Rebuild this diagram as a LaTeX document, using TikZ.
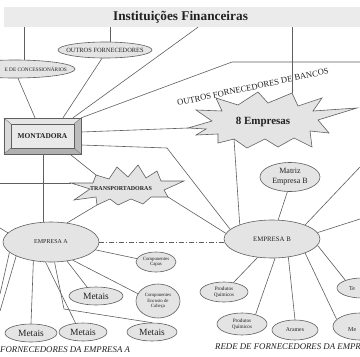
\documentclass[tikz,border=0pt]{standalone}
\usepackage{fontspec}
\setmainfont{Liberation Serif}
\usetikzlibrary{shapes.geometric}
\definecolor{linec}{HTML}{5F5F5F}
\definecolor{ellf}{HTML}{E4E4E4}
\definecolor{barf}{HTML}{EBEBEB}
\definecolor{txt}{HTML}{222222}
\newcommand{\myfs}[2]{\fontsize{#1}{#2}\selectfont}
\tikzset{
  ln/.style={draw=linec, line width=0.6pt},
  ell/.style={ellipse, draw=linec, fill=ellf, line width=0.6pt, inner sep=0pt, align=center, text=txt},
  burst/.style={draw=linec, fill=ellf, line width=0.6pt, line join=miter},
  lbl/.style={inner sep=0pt, text=txt, align=center},
  dashdot/.style={ln, dash pattern=on 5pt off 2pt on 1pt off 2pt},
}
\begin{document}
\begin{tikzpicture}[x=1pt,y=-1pt]
\useasboundingbox (0,0) rectangle (360,357);
\clip (0,0) rectangle (360,357);
\fill[white] (0,0) rectangle (360,357);

% title bar
\node[fill=barf, minimum width=356pt, minimum height=20pt, inner sep=0pt] (bar) at (182,17) {};
\node[lbl, font=\bfseries\myfs{13.3}{15}] (title) at (180.5,17.5) {Instituições Financeiras};

% top ellipses
\node[ell, minimum width=120pt, minimum height=18pt] (conc) at (15,69) {};
\node[lbl, anchor=east, font=\myfs{5.3}{6}] (conct) at (67,69.5) {E DE CONCESSIONÁRIOS};
\node[ell, minimum width=94pt, minimum height=16pt] (outros) at (105,50) {};
\node[lbl, font=\myfs{6.4}{7}] (outrost) at (105,50.5) {OUTROS FORNECEDORES};

% Montadora bevelled box
\fill[gray!45] (4,118) rectangle (81,154);
\fill[gray!20] (4,118) -- (81,118) -- (74,124) -- (11,124) -- cycle;
\fill[gray!30] (4,118) -- (11,124) -- (11,148) -- (4,154) -- cycle;
\fill[gray!62] (4,154) -- (81,154) -- (74,148) -- (11,148) -- cycle;
\fill[gray!52] (81,118) -- (81,154) -- (74,148) -- (74,124) -- cycle;
\draw[linec, line width=0.3pt] (4,118) -- (11,124) (81,118) -- (74,124) (4,154) -- (11,148) (81,154) -- (74,148);
\draw[linec, line width=0.4pt, fill=gray!17] (11,124) rectangle (74,148);
\draw[linec, line width=0.6pt] (4,118) rectangle (81,154);
\node[lbl, font=\bfseries\myfs{7.4}{8}, minimum width=77pt, minimum height=36pt] (mont) at (42.5,136) {MONTADORA};

% 8 Empresas starburst
\draw[burst] (188,128) -- (212,121) -- (196,110) -- (222,111) -- (216,98) -- (238,105) -- (258,92) -- (268,103) -- (292,93) -- (298,106) -- (322,98) -- (313,111) -- (357,108) -- (318,120) -- (329,133) -- (310,131) -- (312,147) -- (294,138) -- (278,147) -- (265,139) -- (247,148) -- (234,139) -- (218,143) -- (218,134) -- (196,135) -- (206,129) -- cycle;
\node[lbl, font=\bfseries\myfs{11}{12}] (e8) at (263,122) {8 Empresas};
\coordinate (e8L) at (188,128);
\coordinate (e8T) at (292,93);
\coordinate (e8B) at (234,139);

% Transportadoras starburst
\draw[burst] (71,183) -- (90,189) -- (74,200) -- (96,197) -- (97,205) -- (110,199) -- (118,205) -- (131,199) -- (143,204) -- (151,197) -- (168,197) -- (164,190) -- (184,181) -- (161,181) -- (157,171) -- (146,178) -- (138,165) -- (128,177) -- (117,167) -- (109,179) -- (96,175) -- (93,183) -- cycle;
\node[lbl, font=\bfseries\myfs{6}{7}] (trans) at (121,189) {TRANSPORTADORAS};
\coordinate (trL) at (71,183);
\coordinate (trBL) at (97,205);
\coordinate (trR) at (168,197);
\coordinate (trUL) at (96,175);

% rotated label
\node[lbl, font=\myfs{8.6}{9}, rotate=12] (bancos) at (253,87) {OUTROS FORNECEDORES DE BANCOS};

% Empresa A side
\node[ell, minimum width=96pt, minimum height=40pt, font=\myfs{6}{7}] (empA) at (51,242) {EMPRESA A};
\node[ell, minimum width=40pt, minimum height=20pt, font=\myfs{4.8}{5.6}] (capas) at (156,262) {Componentes\\Capas};
\node[ell, minimum width=44pt, minimum height=34pt, font=\myfs{4.8}{5.8}] (enc) at (158,301) {Componentes\\Encosto de\\Cabeça};
\node[ell, minimum width=54pt, minimum height=18pt, font=\myfs{9.5}{10}] (metM) at (96,296) {Metais};
\node[ell, minimum width=52pt, minimum height=18pt, font=\myfs{9.5}{10}] (metBL) at (31,333) {Metais};
\node[ell, minimum width=48pt, minimum height=18pt, font=\myfs{9.5}{10}] (metBM) at (83,332) {Metais};
\node[ell, minimum width=50pt, minimum height=18pt, font=\myfs{9.5}{10}] (metBR) at (152,332) {Metais};

% Empresa B side
\node[ell, minimum width=96pt, minimum height=38pt, font=\myfs{6.8}{8}] (empB) at (272,239) {EMPRESA B};
\node[ell, minimum width=60pt, minimum height=29pt, font=\myfs{8}{10}] (matriz) at (290,177) {Matriz\\Empresa B};
\node[ell, minimum width=48pt, minimum height=20pt, font=\myfs{5.2}{6.2}] (pq1) at (224,292) {Produtos\\Químicos};
\node[ell, minimum width=50pt, minimum height=22pt, font=\myfs{5.2}{6.2}] (pq2) at (242,324) {Produtos\\Químicos};
\node[ell, minimum width=46pt, minimum height=20pt, font=\myfs{5.8}{7}] (arames) at (295,330) {Arames};
\node[ell, minimum width=50pt, minimum height=20pt] (te) at (362,288) {};
\node[lbl, anchor=west, font=\myfs{6}{7}] (tet) at (349,288.5) {Te};
\node[ell, minimum width=54pt, minimum height=27pt] (me) at (360,326.5) {};
\node[lbl, anchor=west, font=\myfs{6}{7}] (met) at (348,330) {Me};

% bottom captions
\node[lbl, anchor=west, font=\itshape\myfs{8.8}{10}] (labA) at (0,350) {FORNECEDORES DA EMPRESA A};
\node[lbl, anchor=west, font=\itshape\myfs{8.8}{10}] (labB) at (215,347) {REDE DE FORNECEDORES DA EMPR};

% free ends
\coordinate (k1) at (232,62);
\coordinate (k2) at (360,62);
\coordinate (k3) at (167,148);
\coordinate (offL1) at (0,228);
\coordinate (offL2) at (0,183);
\coordinate (offA1) at (0,294);
\coordinate (offA2) at (0,311);
\coordinate (bend) at (64,309);
\coordinate (offR1) at (360,167);
\coordinate (offR2) at (360,219);

% connectors
\draw[ln] (bar.south -| 24,0) -- (conc.north -| 24,0);
\draw[ln] (bar.south -| 110,0) -- (outros.north -| 110,0);
\draw[ln] (conc.south -| 18,0) -- (mont.north -| 35,0);
\draw[ln] (outros.south -| 102,0) -- (mont.north -| 63,0);
\draw[ln] (mont.north -| 73,0) -- (bar.south -| 198,0);
\draw[ln] (mont.north east) -- (k1) -- (k2);
\draw[ln] (mont.east |- 0,132) -- (e8L);
\draw[ln] (mont.east |- 0,145) -- (k3) -- (empB.167);
\draw[ln] (mont.south -| 43,0) -- (empA.north -| 43,0);
\draw[ln] (mont.south -| 70,0) -- (trUL);
\draw[ln] (offL2) -- (trL);
\draw[ln] (trBL) -- (empA.50);
\draw[ln] (trR) -- (empB.173);
\draw[ln] (bar.south -| 292,0) -- (e8T);
\draw[ln] (e8B) -- (empB.156);
\draw[dashdot] (empA.east) -- (empA.east -| empB.west);
\draw[ln] (offL1) -- (empA.168);
\draw[ln] (empA.-166) -- (offA1);
\draw[ln] (empA.-158) -- (offA2);
\draw[ln] (empA.-133) -- (metBL.north);
\draw[ln] (empA.-105) -- (metBM.130);
\draw[ln] (empA.-80) -- (bend) -- (metBR.north);
\draw[ln] (empA.-50) -- (metM.135);
\draw[ln] (empA.-40) -- (enc.160);
\draw[ln] (empA.-10) -- (capas.170);
\draw[ln] (empB.72) -- (matriz.-100);
\draw[ln] (empB.23) -- (offR1);
\draw[ln] (empB.8) -- (offR2);
\draw[ln] (empB.-128) -- (pq1.45);
\draw[ln] (empB.-81) -- (pq2.35);
\draw[ln] (empB.-48) -- (arames.north);
\draw[ln] (empB.-23) -- (me.163);
\draw[ln] (empB.-8) -- (te.155);
\end{tikzpicture}
\end{document}
